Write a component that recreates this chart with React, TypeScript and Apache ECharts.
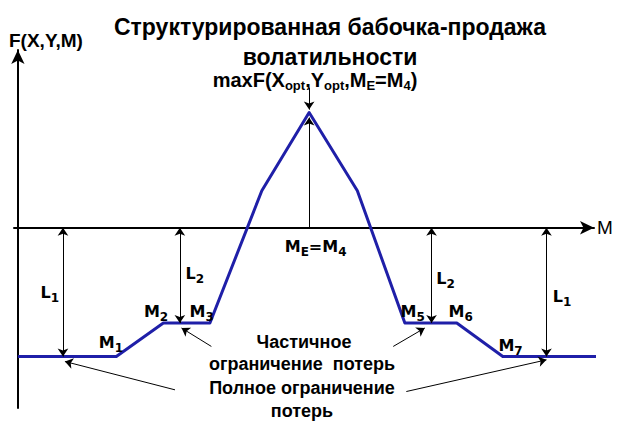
import { useEffect, useRef } from "react";
import * as echarts from "echarts";

// blue payoff curve (M on x, F on y)
const curveX = [0, 20.3, 30, 39.6, 50.3, 60.06, 70, 79.8, 90.5, 100, 120.3];
const curveY = [-100, -100, -74, -74, 28.7, 89.4, 28.7, -74, -74, -100, -100];

// point labels with subscripts
const markNames = ["M", "M", "M", "M", "M", "M", "L", "L", "L", "L"];
const markSubs = ["1", "2", "3", "5", "6", "7", "1", "2", "2", "1"];
const markX = [19.2, 28.5, 37.9, 81.4, 91.3, 101.6, 6.6, 36.5, 88.2, 112.2];
const markY = [-89.4, -65.3, -65.3, -65.3, -65.3, -91.7, -50.5, -35.7, -39.6, -53.6];

// double arrows L1 / L2: x position and depth
const gapX = [9.3, 33.4, 85.3, 109];
const gapY = [-100, -74, -74, -100];

// annotation arrows: from text to curve
const noteFrom = [[39.9, -92.2], [77.4, -92.2], [32.4, -125.9], [80.1, -127.2]];
const noteTo = [[33.75, -77.9], [83.9, -77.9], [9.7, -103.9], [109, -102.6]];

const peakX = 60.06;

const FONT = "Liberation Sans, Arial, sans-serif";
const HEAVY = "DejaVu Sans, sans-serif";

export default function App() {
  const ref = useRef<HTMLDivElement | null>(null);

  useEffect(() => {
    if (!ref.current) return;
    const chart = echarts.init(ref.current, null, { renderer: "svg" });

    const rich = {
      b: { fontFamily: HEAVY, fontWeight: "bold", fontSize: 16, color: "#000" },
      s: {
        fontFamily: HEAVY,
        fontWeight: "bold",
        fontSize: 12,
        color: "#000",
        padding: [11, 0, 0, 0],
      },
    };

    const arrowLines: any[] = [];
    gapX.forEach((x, i) => {
      arrowLines.push([
        { coord: [x, 0], symbol: "arrow" },
        { coord: [x, gapY[i]], symbol: "arrow" },
      ]);
    });
    noteFrom.forEach((p, i) => {
      arrowLines.push([
        { coord: p, symbol: "none" },
        { coord: noteTo[i], symbol: "arrow" },
      ]);
    });
    arrowLines.push([
      { coord: [peakX, 108.8], symbol: "none" },
      { coord: [peakX, 91.7], symbol: "arrow" },
    ]);
    arrowLines.push([
      { coord: [peakX, 0], symbol: "none" },
      { coord: [peakX, 85.5], symbol: "arrow" },
    ]);

    const points: any[] = markNames.map((n, i) => ({
      coord: [markX[i], markY[i]],
      label: { formatter: `{b|${n}}{s|${markSubs[i]}}` },
    }));
    points.push({
      coord: [61.4, -14.8],
      label: { formatter: "{b|M}{s|E}{b|=M}{s|4}" },
    });

    chart.setOption({
      animation: false,
      backgroundColor: "#fff",
      grid: { left: 14, right: 30, top: 50, bottom: 20 },
      xAxis: {
        type: "value",
        min: -0.8,
        max: 118.8,
        name: "M",
        nameGap: 3,
        nameTextStyle: { fontFamily: FONT, fontSize: 19, color: "#000" },
        axisLine: {
          onZero: true,
          symbol: ["none", "arrow"],
          symbolSize: [10, 14],
          lineStyle: { color: "#000", width: 2 },
        },
        axisTick: { show: false },
        axisLabel: { show: false },
        splitLine: { show: false },
      },
      yAxis: {
        type: "value",
        min: -140,
        max: 138,
        axisLine: {
          onZero: true,
          symbol: ["none", "arrow"],
          symbolSize: [10, 14],
          lineStyle: { color: "#000", width: 2 },
        },
        axisTick: { show: false },
        axisLabel: { show: false },
        splitLine: { show: false },
      },
      series: [
        {
          type: "line",
          data: curveX.map((x, i) => [x, curveY[i]]),
          symbol: "none",
          clip: false,
          lineStyle: { color: "#1f1fa8", width: 3, join: "round" },
          markLine: {
            silent: true,
            symbolSize: 8,
            label: { show: false },
            lineStyle: { color: "#000", width: 1, type: "solid" },
            data: arrowLines,
          },
          markPoint: {
            silent: true,
            symbol: "rect",
            symbolSize: 1,
            itemStyle: { color: "transparent" },
            label: { show: true, position: "inside", rich },
            data: points,
          },
        },
      ],
      graphic: [
        {
          type: "text",
          x: 330,
          y: 27,
          style: {
            text: "Структурированная бабочка-продажа",
            font: `bold 23px ${FONT}`,
            fill: "#000",
            align: "center",
            verticalAlign: "middle",
          },
        },
        {
          type: "text",
          x: 330,
          y: 57,
          style: {
            text: "волатильности",
            font: `bold 23px ${FONT}`,
            fill: "#000",
            align: "center",
            verticalAlign: "middle",
          },
        },
        {
          type: "text",
          x: 315,
          y: 80,
          style: {
            text: "{a|maxF(X}{s|opt}{a|,Y}{s|opt}{a|,M}{s|E}{a|=M}{s|4}{a|)}",
            align: "center",
            verticalAlign: "middle",
            rich: {
              a: { fontFamily: FONT, fontWeight: "bold", fontSize: 20, fill: "#000" },
              s: {
                fontFamily: FONT,
                fontWeight: "bold",
                fontSize: 13,
                fill: "#000",
                padding: [10, 0, 0, 0],
              },
            },
          },
        },
        {
          type: "text",
          x: 9,
          y: 40,
          style: {
            text: "F(X,Y,M)",
            font: `bold 19px ${FONT}`,
            fill: "#000",
            align: "left",
            verticalAlign: "middle",
          },
        },
        ...[
          ["Частичное", 304, 342],
          ["ограничение  потерь", 302, 364],
          ["Полное ограничение", 302, 388],
          ["потерь", 302, 411],
        ].map(([t, x, y]) => ({
          type: "text",
          x,
          y,
          style: {
            text: t,
            font: `bold 18px ${FONT}`,
            fill: "#000",
            align: "center",
            verticalAlign: "middle",
          },
        })),
      ],
    });

    return () => chart.dispose();
  }, []);

  return (
    <div
      ref={ref}
      style={{
        position: "fixed",
        left: 0,
        top: 0,
        width: 624,
        height: 428,
        background: "#fff",
      }}
    />
  );
}
